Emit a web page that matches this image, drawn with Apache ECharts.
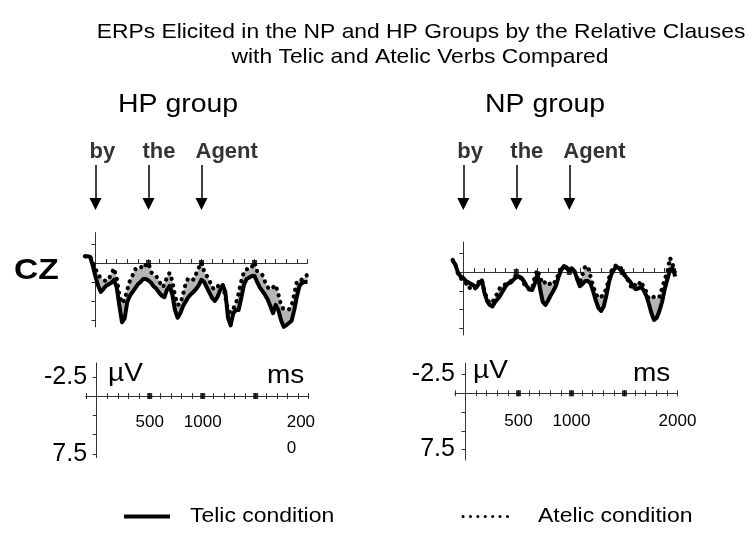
<!DOCTYPE html>
<html><head><meta charset="utf-8">
<script src="https://cdn.jsdelivr.net/npm/echarts@6/dist/echarts.min.js"></script>
<style>html,body{margin:0;padding:0;background:#fff}#c{width:756px;height:534px}</style>
</head><body><div id="c"></div>
<script>
// ---- data (ms, µV; negative plotted up) ----
const times = [-100,-75,-50,-25,0,25,50,75,100,125,150,175,200,225,250,275,300,325,350,375,400,425,450,475,500,525,550,575,600,625,650,675,700,725,750,775,800,825,850,875,900,925,950,975,1000,1025,1050,1075,1100,1125,1150,1175,1200,1225,1250,1275,1300,1325,1350,1375,1400,1425,1450,1475,1500,1525,1550,1575,1600,1625,1650,1675,1700,1725,1750,1775,1800,1825,1850,1875,1900,1925,1950,1975,2000];
const hpTelic = [-0.8,-0.9,-0.8,0.4,1.8,3.0,3.8,3.4,3.0,2.8, 2.6,2.2,3.2,5.6,7.8,7.3,5.1,4.3,3.8,3.3, 2.8,2.5,2.1,2.1,2.3,2.6,3.1,3.4,3.9,4.3, 4.5,3.5,3.0,4.2,6.2,7.2,6.6,5.7,5.1,4.5, 4.1,3.8,3.4,2.9,2.2,2.5,3.2,3.9,4.6,5.0, 4.5,3.6,2.9,3.8,7.2,8.2,6.6,6.2,6.2,4.6, 2.9,2.1,1.9,1.7,1.7,2.5,3.2,3.7,4.2,4.8, 5.7,6.6,5.5,6.2,7.5,8.4,8.2,7.9,7.6,6.2, 4.4,3.0,2.6,2.5,2.5];
const hpAtelic = [-0.9,-1.0,-0.8,-0.1,0.8,1.5,2.0,2.2,2.4,2.1, 1.4,0.7,2.0,4.2,5.3,4.8,3.5,2.3,1.6,0.8, 0.9,0.7,0.1,0.3,0.0,1.2,1.6,1.8,2.3,3.2, 2.9,1.8,1.3,2.4,4.3,5.5,5.4,4.2,2.7,2.0, 2.0,2.2,1.4,0.6,-0.1,1.1,1.7,2.3,3.2,3.5, 3.1,2.8,2.8,4.5,6.3,6.5,6.0,5.3,4.0,2.4, 1.2,0.8,0.9,0.5,-0.1,1.1,1.3,1.6,2.5,3.2, 3.5,3.2,2.9,4.1,5.5,6.1,6.2,6.1,5.6,4.1, 2.4,2.2,2.2,1.9,1.5];
const npTelic = [-1.5,-1.0,0.1,0.6,0.8,1.2,1.4,1.6,1.8,2.0, 1.5,1.1,2.8,3.9,4.4,4.6,4.0,3.6,3.1,2.5, 1.9,1.5,1.4,1.0,0.7,0.6,0.8,1.3,1.9,2.3, 2.4,1.5,0.2,2.3,4.0,4.4,3.8,3.1,2.5,1.8, 0.6,-0.3,-0.8,-0.6,-0.1,-0.5,-0.1,1.0,1.9,1.6, 1.2,1.2,1.5,2.6,3.8,4.8,5.2,4.6,3.1,1.3, 0.2,-0.4,-0.7,-0.4,0.0,0.5,0.9,1.3,1.9,2.3, 2.2,2.0,2.4,3.1,4.2,5.5,6.4,6.1,5.2,4.0, 2.3,1.0,-0.3,-0.5,0.6];
const npAtelic = [-1.6,-1.0,0.2,0.8,1.2,1.5,2.2,2.0,2.3,2.0, 1.2,1.0,2.6,3.6,4.2,4.0,3.4,2.7,2.0,1.9, 1.6,1.4,1.2,0.8,0.4,0.5,1.0,1.6,2.0,2.4, 2.2,0.6,-0.3,0.8,1.6,1.3,1.7,1.5,1.7,1.0, 0.3,-0.5,-0.7,-0.5,-0.2,-0.6,0.0,0.8,1.4,0.3, -0.8,-0.7,0.6,1.9,2.9,3.5,3.3,3.0,2.2,0.8, -0.2,-0.8,-0.9,-0.8,-0.2,0.4,1.0,1.8,2.2,1.6, 1.8,1.2,2.0,2.6,3.6,3.4,3.3,3.5,3.3,2.2, 1.0,0.0,-1.9,-1.0,0.3];
const wordOnsets = [0, 500, 1000];
const words = ['by', 'the', 'Agent'];
const majorTicks = [500, 1000, 1500];
const yTickValues = [-2.5, 0, 2.5, 5, 7.5];
const yLabelValues = [-2.5, 7.5];
const xLabelValues = [500, 1000, 2000];

// ---- layout ----
const FONT = "'Liberation Sans', Arial, sans-serif";
const PPMS = 0.106;            // px per ms
const TMIN = -100, TMAX = 2000;
const WMIN = -4, WMAX = 8.4;   // waveform µV range
const SX = 1.12;               // horizontal text stretch of the original figure

function box(x0, zero, ppu, min, max, fromT) {
  return { left: x0 + fromT * PPMS, top: zero + min * ppu, width: (TMAX - fromT) * PPMS, height: (max - min) * ppu };
}
const P = {
  hp: { x0: 95.5, zero: 263, ppu: 7.6, sx0: 96.7, szero: 396, sppu: 7.7, smin: -4.3, smax: 8.0, lm: 13, ym: -1 },
  np: { x0: 463.3, zero: 272, ppu: 7.5, sx0: 465.5, szero: 393.3, sppu: 7.5, smin: -4.0, smax: 8.9, lm: 15, ym: 0 }
};
const ARROW_GRID_TOP = 140, ARROW_GRID_H = 72;
const WORD_Y = 0.84, ARROW_FROM = 0.653, ARROW_TO = 0.111;

const grids = [], xAxes = [], yAxes = [], series = [];
const black = '#000';
const axisCol = '#333';
const pair = arr => times.map((t, i) => [t, arr[i]]);

['hp', 'np'].forEach((k) => {
  const p = P[k];
  const telic = k === 'hp' ? hpTelic : npTelic;
  const atelic = k === 'hp' ? hpAtelic : npAtelic;
  const gData = grids.length; grids.push(box(p.x0, p.zero, p.ppu, WMIN, WMAX, TMIN));
  const gAx = grids.length; grids.push(box(p.x0, p.zero, p.ppu, WMIN, WMAX, 0));
  const gScale = grids.length; grids.push(box(p.sx0, p.szero, p.sppu, p.smin, p.smax, TMIN));
  const gLab = grids.length; grids.push(box(p.sx0, p.szero, p.sppu, p.smin, 0, TMIN));
  const gArrow = grids.length; grids.push({ left: p.x0 + TMIN * PPMS, width: (TMAX - TMIN) * PPMS, top: ARROW_GRID_TOP, height: ARROW_GRID_H });

  // wave data axes (hidden)
  const xD = xAxes.length; xAxes.push({ gridIndex: gData, type: 'value', min: TMIN, max: TMAX, show: false });
  const yD = yAxes.length; yAxes.push({ gridIndex: gData, type: 'value', min: WMIN, max: WMAX, inverse: true, show: false });
  // wave visible axes
  const xA = xAxes.length; xAxes.push({ gridIndex: gAx, type: 'value', min: 0, max: TMAX, interval: 100,
    axisLine: { show: true, onZero: true, lineStyle: { color: axisCol, width: 1 } },
    axisTick: { show: true, inside: true, length: 4, lineStyle: { color: axisCol } },
    axisLabel: { show: false }, splitLine: { show: false } });
  const yA = yAxes.length; yAxes.push({ gridIndex: gAx, type: 'value', min: WMIN, max: WMAX, inverse: true,
    axisLine: { show: true, onZero: false, lineStyle: { color: axisCol, width: 1 } },
    axisTick: { show: true, inside: false, length: 4, customValues: yTickValues, lineStyle: { color: axisCol } },
    axisLabel: { show: false }, splitLine: { show: false } });
  // scale bar axes (line on zero, ticks downward)
  const xS = xAxes.length; xAxes.push({ gridIndex: gScale, type: 'value', min: TMIN, max: TMAX, interval: 100,
    axisLine: { show: true, onZero: true, lineStyle: { color: axisCol, width: 1 } },
    axisTick: { show: true, inside: false, length: 3, lineStyle: { color: axisCol } },
    axisLabel: { show: false }, splitLine: { show: false } });
  const yS = yAxes.length; yAxes.push({ gridIndex: gScale, type: 'value', min: p.smin, max: p.smax, inverse: true,
    axisLine: { show: true, onZero: true, lineStyle: { color: axisCol, width: 1 } },
    axisTick: { show: true, inside: false, length: 4, customValues: yTickValues, lineStyle: { color: axisCol } },
    axisLabel: { show: true, customValues: yLabelValues, margin: p.ym, fontSize: 25, fontFamily: FONT, color: black },
    splitLine: { show: false } });
  // label grid: its bottom edge is the scale's zero line (ticks upward + time labels)
  xAxes.push({ gridIndex: gLab, type: 'value', min: TMIN, max: TMAX, interval: 100, position: 'bottom',
    axisLine: { show: true, onZero: false, lineStyle: { color: axisCol, width: 1 } },
    axisTick: { show: true, inside: true, length: 3, lineStyle: { color: axisCol } },
    axisLabel: { show: true, customValues: xLabelValues, margin: p.lm, color: black, fontFamily: FONT,
      formatter: v => (k === 'hp' && v === 2000) ? '{l|200}\n{l|0}' : '{c|' + v + '}',
      rich: { c: { fontSize: 17, lineHeight: 26, fontFamily: FONT, color: black },
              l: { fontSize: 17, lineHeight: 26, width: 44, align: 'left', fontFamily: FONT, color: black } } },
    splitLine: { show: false } });
  yAxes.push({ gridIndex: gLab, type: 'value', min: p.smin, max: 0, inverse: true, show: false });
  // arrow grid axes
  const xW = xAxes.length; xAxes.push({ gridIndex: gArrow, type: 'value', min: TMIN, max: TMAX, show: false });
  const yW = yAxes.length; yAxes.push({ gridIndex: gArrow, type: 'value', min: 0, max: 1, show: false });

  // gray fill between the conditions
  series.push({ type: 'custom', coordinateSystem: 'cartesian2d', xAxisIndex: xD, yAxisIndex: yD, silent: true, z: 1,
    data: [[0, 0]],
    renderItem: (params, api) => {
      const fwd = times.map((t, i) => api.coord([t, telic[i]]));
      const back = times.map((t, i) => api.coord([t, atelic[i]])).reverse();
      return { type: 'polygon', shape: { points: fwd.concat(back) }, style: { fill: '#b5b5b5' } };
    } });
  series.push({ name: 'Telic condition', type: 'line', xAxisIndex: xD, yAxisIndex: yD, data: pair(telic), clip: false,
    symbol: 'none', z: 3, lineStyle: { color: black, width: 4, join: 'round' } });
  series.push({ name: 'Atelic condition', type: 'line', xAxisIndex: xD, yAxisIndex: yD, data: pair(atelic), clip: false,
    symbol: 'none', z: 4, lineStyle: { color: black, width: 4.2, type: [0.1, 6.8], cap: 'round' } });
  // major tick squares
  series.push({ type: 'scatter', xAxisIndex: xA, yAxisIndex: yA, data: majorTicks.map(t => [t, 0]), symbol: 'rect',
    symbolSize: [5, 6], itemStyle: { color: black }, z: 5, silent: true });
  series.push({ type: 'scatter', xAxisIndex: xS, yAxisIndex: yS, data: majorTicks.map(t => [t, 0]), symbol: 'rect',
    symbolSize: [5, 6], itemStyle: { color: black }, z: 5, silent: true });
  // words + arrows at word onsets
  series.push({ type: 'scatter', xAxisIndex: xW, yAxisIndex: yW, symbolSize: 0, silent: true,
    data: wordOnsets.map((t, i) => ({ value: [t, WORD_Y], name: words[i] })),
    label: { show: true, formatter: '{b}', position: 'inside', align: 'left', verticalAlign: 'middle', offset: [-6, 0],
      fontFamily: FONT, fontWeight: 'bold', fontSize: 22, color: black },
    markLine: { silent: true, symbol: ['none', 'triangle'], symbolSize: 12, animation: false,
      lineStyle: { color: black, width: 1.5, type: 'solid' }, label: { show: false },
      data: wordOnsets.map(t => [{ coord: [t, ARROW_FROM] }, { coord: [t, ARROW_TO] }]) } });
});

function txt(text, x, y, size, opts = {}) {
  return { type: 'text', x, y, scaleX: SX, silent: true,
    style: { text, fill: black, font: (opts.bold ? 'bold ' : '') + size + 'px ' + FONT,
      textAlign: opts.align || 'left', textVerticalAlign: 'middle' } };
}
const graphic = [
  txt('ERPs Elicited in the NP and HP Groups by the Relative Clauses', 421, 32, 20.4, { align: 'center' }),
  txt('with Telic and Atelic Verbs Compared', 420, 57, 20.4, { align: 'center' }),
  txt('HP group', 118, 104.5, 25.4),
  txt('NP group', 485, 104.5, 25.4),
  txt('CZ', 14, 271, 30, { bold: true }),
  txt('\u00b5V', 108, 374, 25),
  txt('ms', 267, 376, 25),
  txt('\u00b5V', 473, 371, 25),
  txt('ms', 633, 374, 25),
  { type: 'line', silent: true, shape: { x1: 124, y1: 516.5, x2: 170, y2: 516.5 }, style: { stroke: black, lineWidth: 4 } },
  txt('Telic condition', 190, 516, 20.5),
  { type: 'line', silent: true, shape: { x1: 463, y1: 516.5, x2: 513, y2: 516.5 },
    style: { stroke: black, lineWidth: 3, lineDash: [0.1, 7.3], lineCap: 'round' } },
  txt('Atelic condition', 538, 516, 20.5)
];

const chart = echarts.init(document.getElementById('c'), null, { renderer: 'canvas' });
chart.setOption({
  animation: false,
  backgroundColor: '#fff',
  grid: grids,
  xAxis: xAxes,
  yAxis: yAxes,
  series: series,
  graphic: graphic
});
</script></body></html>
